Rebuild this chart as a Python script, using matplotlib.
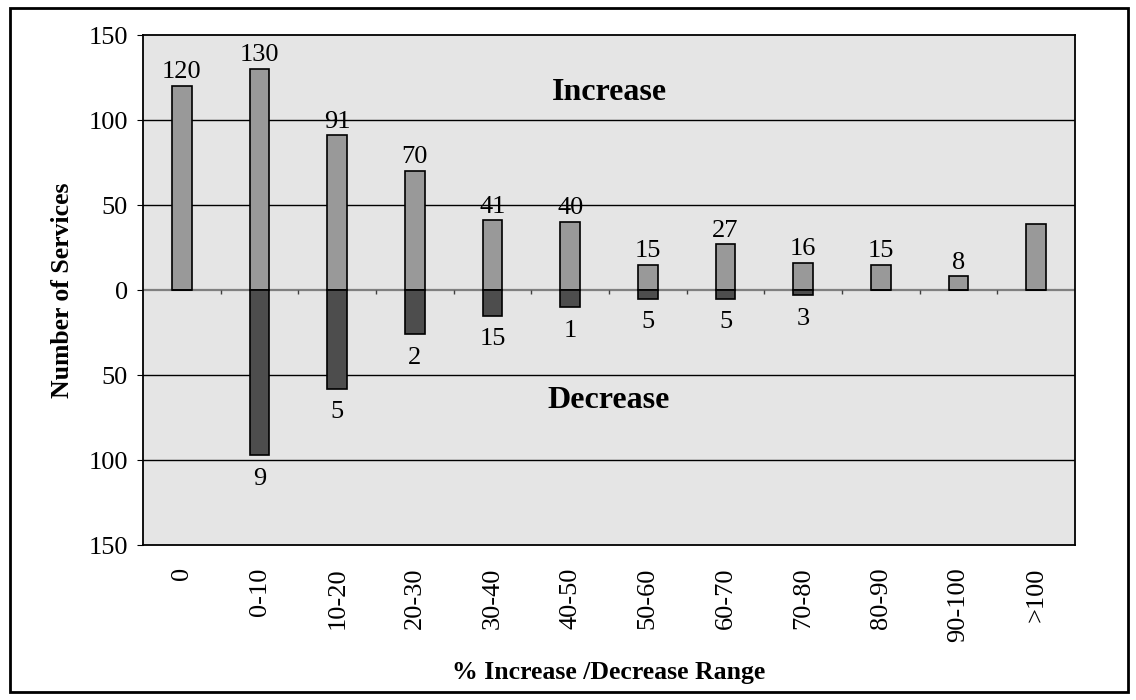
import matplotlib
matplotlib.use("Agg")
import matplotlib.pyplot as plt
from matplotlib.ticker import FuncFormatter
from matplotlib.patches import Rectangle
import numpy as np

categories = ["0", "0-10", "10-20", "20-30", "30-40", "40-50", "50-60",
              "60-70", "70-80", "80-90", "90-100", ">100"]
increase = [120, 130, 91, 70, 41, 40, 15, 27, 16, 15, 8, 39]
decrease = [0, 97, 58, 26, 15, 10, 5, 5, 3, 0, 0, 0]
increase_labels = ["120", "130", "91", "70", "41", "40", "15", "27", "16", "15", "8", ""]
decrease_labels = ["", "9", "5", "2", "15", "1", "5", "5", "3", "", "", ""]

plt.rcParams['font.family'] = ['Liberation Serif', 'DejaVu Serif']

fig = plt.figure(figsize=(11.36, 7.0), dpi=100)
ax = fig.add_axes([0.1259, 0.2214, 0.8204, 0.7286])
ax.set_facecolor('#e5e5e5')

x = np.arange(len(categories))
w = 0.25
ax.bar(x, increase, width=w, color='#999999', edgecolor='black', linewidth=1.2, zorder=3)
dec = [-d for d in decrease]
ax.bar(x, dec, width=w, color='#4d4d4d', edgecolor='black', linewidth=1.2, zorder=3)

for xi, v, lab in zip(x, increase, increase_labels):
    if lab:
        ax.text(xi, v + 1.5, lab, ha='center', va='bottom', fontsize=19, zorder=4)
for xi, v, lab in zip(x, decrease, decrease_labels):
    if lab:
        ax.text(xi, -v - 7.5, lab, ha='center', va='top', fontsize=19, zorder=4)

ax.set_xlim(-0.5, len(categories) - 0.5)
ax.set_ylim(-150, 150)
ax.set_yticks([-150, -100, -50, 0, 50, 100, 150])
ax.yaxis.set_major_formatter(FuncFormatter(lambda v, p: f"{abs(int(v))}"))
for yv in [-100, -50, 50, 100]:
    ax.axhline(yv, color='black', linewidth=1.0, zorder=1)
ax.axhline(0, color='#808080', linewidth=1.6, zorder=2)
# boundary ticks on the zero line
for b in np.arange(0.5, len(categories) - 0.5, 1.0):
    ax.vlines(b, -2.5, 0, color='#404040', linewidth=1.0, zorder=2)

ax.set_xticks(x)
ax.set_xticklabels(categories, rotation=90, fontsize=19)
ax.tick_params(axis='x', length=0, pad=16)
ax.tick_params(axis='y', labelsize=19, length=4, pad=7, direction='out')
for s in ax.spines.values():
    s.set_linewidth(1.3)
    s.set_color('black')

ax.set_ylabel("Number of Services", fontsize=18.5, fontweight='bold', labelpad=10)
ax.set_xlabel("% Increase /Decrease Range", fontsize=18.5, fontweight='bold', labelpad=14)

ax.text(5.5, 116, "Increase", ha='center', va='center', fontsize=23, fontweight='bold')
ax.text(5.5, -65, "Decrease", ha='center', va='center', fontsize=23, fontweight='bold')

fig.patches.append(Rectangle((0.009, 0.011), 0.984, 0.978, transform=fig.transFigure,
                             fill=False, edgecolor='black', linewidth=2))

fig.savefig("out.png", dpi=100)
